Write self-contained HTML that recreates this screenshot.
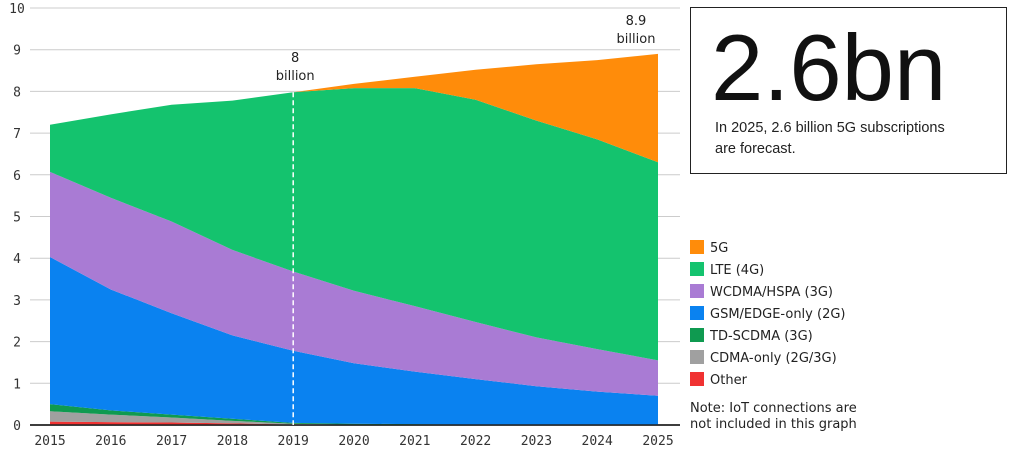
<!DOCTYPE html>
<html><head><meta charset="utf-8"><style>
body{margin:0;background:#fff;width:1014px;height:454px;overflow:hidden;font-family:"Liberation Sans","DejaVu Sans",sans-serif;}
svg text{font-family:"DejaVu Sans Mono",monospace;font-size:13px;fill:#333;}
svg text.lg{font-family:"DejaVu Sans",sans-serif;font-size:13px;fill:#222;}
</style></head><body>
<svg id="c" width="1014" height="454"></svg>
<script>
const years=[2015,2016,2017,2018,2019,2020,2021,2022,2023,2024,2025];
const yTicks=[0,1,2,3,4,5,6,7,8,9,10];
const other=[0.08,0.07,0.06,0.04,0.01,0,0,0,0,0,0];
const cdma=[0.25,0.18,0.12,0.06,0.02,0.01,0,0,0,0,0];
const tdscdma=[0.17,0.1,0.07,0.05,0.02,0.02,0.02,0.01,0.01,0,0];
const gsm=[3.53,2.9,2.43,2.0,1.73,1.45,1.26,1.09,0.92,0.8,0.7];
const wcdma=[2.04,2.2,2.2,2.05,1.9,1.74,1.57,1.37,1.17,1.02,0.85];
const lte=[1.13,2.0,2.8,3.58,4.3,4.86,5.23,5.33,5.2,5.03,4.75];
const g5=[0,0,0,0,0,0.1,0.27,0.72,1.35,1.9,2.6];
const seriesNames=["other","cdma-only","td-scdma","gsm-edge","wcdma-hspa","lte","5g"];
const seriesData=[other,cdma,tdscdma,gsm,wcdma,lte,g5];
const colors=["#f03232","#a0a0a0","#0f9a50","#0a82f0","#a97bd4","#14c36e","#ff8c0a"];
const legendLabels=["5G","LTE (4G)","WCDMA/HSPA (3G)","GSM/EDGE-only (2G)","TD-SCDMA (3G)","CDMA-only (2G/3G)","Other"];
const NS="http://www.w3.org/2000/svg";
const svg=document.getElementById('c');
const x0=50,x1=658,yb=425,yt=8;
const X=i=>x0+(x1-x0)*i/(years.length-1);
const Y=v=>yb-(yb-yt)*v/10;
function mk(t,a){const e=document.createElementNS(NS,t);for(const k in a)e.setAttribute(k,a[k]);svg.appendChild(e);return e;}
yTicks.forEach(t=>{
 const l=mk('line',{x1:30,x2:680,y1:Y(t),y2:Y(t),stroke:t?'#ccc':'#222','stroke-width':t?1:1.5});
 
 
 const tx=mk('text',{x:17,y:Y(t)+5,'text-anchor':'middle'});tx.textContent=t;
 
 
});
let base=years.map(()=>0);
seriesData.forEach((s,k)=>{
 const top=base.map((b,i)=>b+s[i]);
 let d='M'+years.map((_,i)=>X(i)+','+Y(top[i])).join('L');
 for(let i=years.length-1;i>=0;i--)d+='L'+X(i)+','+Y(base[i]);
 const p=mk('path',{d:d+'Z',fill:colors[k]});
 
 
 base=top;
});
const ax=mk('line',{x1:30,x2:680,y1:yb,y2:yb,stroke:'#222','stroke-width':1.5});


years.forEach((yr,i)=>{const t=mk('text',{x:X(i),y:445,'text-anchor':'middle'});t.textContent=yr;
 
 });
const i19=4;
const dl=mk('line',{x1:X(i19),x2:X(i19),y1:Y(base[i19]),y2:yb,stroke:'#fff','stroke-width':1.5,'stroke-dasharray':'5,3'});


function lab(x,y,s,n){const t=mk('text',{x:x,y:y,'text-anchor':'middle',class:'lg'});t.textContent=s;
 
 }
lab(X(i19)+2,62,'8','annotation-2019');lab(X(i19)+2,80,'billion','annotation-2019-unit');
lab(636,25,'8.9','annotation-2025');lab(636,43,'billion','annotation-2025-unit');
legendLabels.forEach((s,k)=>{
 const r=mk('rect',{x:690,y:240+k*22,width:14,height:14,fill:colors[6-k]});
 
 
 const t=mk('text',{x:710,y:252+k*22,class:'lg'});t.textContent=s;
 
 
});
[['Note: IoT connections are',412],['not included in this graph',428]].forEach(([s,y])=>{
 const t=mk('text',{x:690,y:y,class:'lg'});t.textContent=s;
 
 
});
</script>
<div style="position:absolute;left:690px;top:7px;width:317px;height:167px;border:1.5px solid #222;box-sizing:border-box;">
 <div style="position:absolute;left:20px;top:8px;font-size:94px;line-height:104px;color:#111;">2.6bn</div>
 <div style="position:absolute;left:24px;top:110px;width:285px;font-size:14.5px;line-height:21px;color:#222;">In 2025, 2.6 billion 5G subscriptions<br>are forecast.</div>
</div>
</body></html>
